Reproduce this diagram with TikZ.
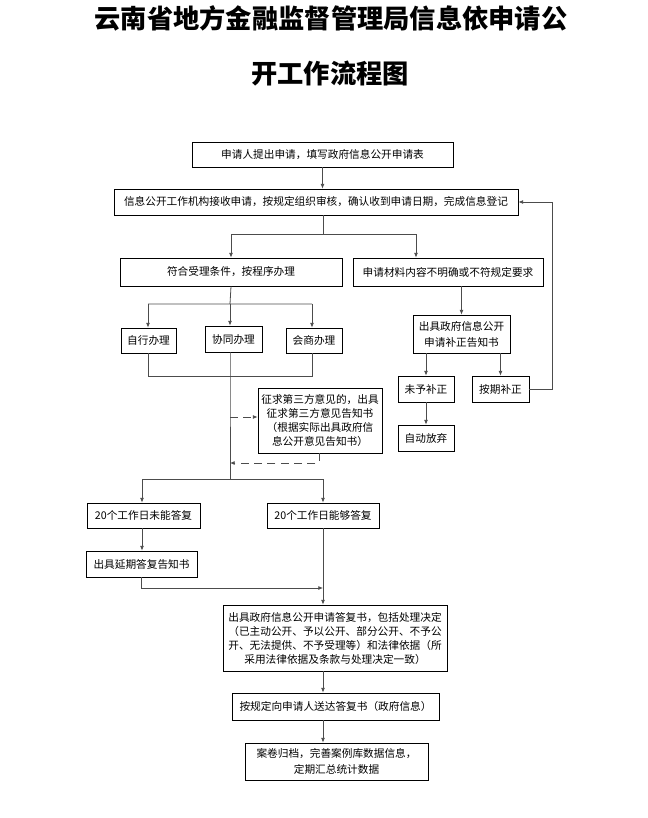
\documentclass[tikz,border=0pt]{standalone}
\usepackage{fontspec}
\setmainfont{Noto Sans CJK SC}
\usetikzlibrary{arrows.meta}

\begin{document}
\begin{tikzpicture}[x=0.75pt, y=-0.75pt,
  box/.style={draw, rectangle, line width=0.6pt, inner sep=0pt, align=center, font=\fontsize{8}{10.5}\selectfont},
  seg/.style={line width=0.6pt, draw=black!70},
  link/.style={seg, -{Latex[length=3.5pt,width=3pt]}},
  dlink/.style={link, dash pattern=on 6pt off 4pt},
  heading/.style={font=\fontsize{19.7}{24}\selectfont\bfseries}]
\useasboundingbox (0,0) rectangle (647,818);
\node[heading] (titleTop) at (331, 18) {云南省地方金融监督管理局信息依申请公};
\node[heading] (titleBottom) at (330, 74) {开工作流程图};
\node[box, minimum width=195.75pt, minimum height=18.75pt] (apply) at (322.5, 154.5) {申请人提出申请，填写政府信息公开申请表};
\node[box, minimum width=303pt, minimum height=19.5pt] (register) at (316, 202) {信息公开工作机构接收申请，按规定组织审核，确认收到申请日期，完成信息登记};
\node[box, minimum width=166.5pt, minimum height=21pt] (accept) at (231, 272) {符合受理条件，按程序办理};
\node[box, minimum width=142.5pt, minimum height=21pt] (unclear) at (448, 272) {申请材料内容不明确或不符规定要求};
\node[box, minimum width=41.25pt, minimum height=18.75pt] (self) at (148.5, 340.5) {自行办理};
\node[box, minimum width=42.75pt, minimum height=19.5pt] (joint) at (233.5, 339) {协同办理};
\node[box, minimum width=42pt, minimum height=18.75pt] (consult) at (314, 340.5) {会商办理};
\node[box, minimum width=72.75pt, minimum height=28.5pt, font=\fontsize{8}{12}\selectfont] (notice) at (461.5, 334) {出具政府信息公开\\申请补正告知书};
\node[box, minimum width=42pt, minimum height=19.5pt] (notFixed) at (426, 389) {未予补正};
\node[box, minimum width=42.75pt, minimum height=19.5pt] (fixed) at (500.5, 389) {按期补正};
\node[box, minimum width=42pt, minimum height=19.5pt] (giveUp) at (426, 438) {自动放弃};
\node[box, minimum width=93pt, minimum height=48.75pt] (thirdParty) at (320, 420.5) {征求第三方意见的，出具\\征求第三方意见告知书\\（根据实际出具政府信\\息公开意见告知书）};
\node[box, minimum width=84.75pt, minimum height=18.75pt] (overdue) at (143.5, 515.5) {20个工作日未能答复};
\node[box, minimum width=84pt, minimum height=18.75pt] (onTime) at (323, 515.5) {20个工作日能够答复};
\node[box, minimum width=83.25pt, minimum height=19.5pt] (extend) at (141.5, 564) {出具延期答复告知书};
\node[box, minimum width=168pt, minimum height=49.5pt] (reply) at (335, 638) {出具政府信息公开申请答复书，包括处理决定\\（已主动公开、予以公开、部分公开、不予公\\开、无法提供、不予受理等）和法律依据（所\\采用法律依据及条款与处理决定一致）};
\node[box, minimum width=155.25pt, minimum height=20.25pt] (deliver) at (335.5, 706.5) {按规定向申请人送达答复书（政府信息）};
\node[box, minimum width=137.25pt, minimum height=27.75pt, font=\fontsize{8}{12.5}\selectfont] (archive) at (336.5, 761.5) {案卷归档，完善案例库数据信息，\\定期汇总统计数据};
\node(1) at (323, 234) {}; \node(2) at (231, 234) {}; \node(3) at (416, 234) {}; % split below register
\node(4) at (230, 304) {}; \node(5) at (148, 304) {}; \node(6) at (312, 304) {}; % split below accept
\node(7) at (148, 376) {}; \node(8) at (312, 376) {}; \node(9) at (230, 376) {}; % merge of the three ways
\node(10) at (230, 479) {}; \node(11) at (230, 417) {}; \node(12) at (319, 463) {}; \node(13) at (230, 463) {};
\node(14) at (142, 479) {}; \node(15) at (323, 479) {}; \node(16) at (141, 588) {}; \node(17) at (323, 588) {};
\node(18) at (552, 389) {}; \node(19) at (552, 202) {}; % way back to register
\draw[link] (apply.south) -- (apply.south |- register.north);
\draw[seg] (1.center |- register.south) -- (1.center) (2.center) -- (3.center);
\draw[link] (2.center) -- (accept.north);
\draw[link] (3.center) -- (3.center |- unclear.north);
\draw[seg] (accept.south) -- (4.center) (5.center) -- (6.center);
\draw[link] (5.center) -- (5.center |- self.north);
\draw[link] (4.center) -- (4.center |- joint.north);
\draw[link] (6.center) -- (6.center |- consult.north);
\draw[seg] (7.center |- self.south) -- (7.center) -- (8.center) -- (8.center |- consult.south);
\draw[seg] (9.center |- joint.south) -- (9.center) -- (10.center);
\draw[dlink] (11.center) -- (11.center -| thirdParty.west);
\draw[dlink] (12.center |- thirdParty.south) -- (12.center) -- (13.center);
\draw[seg] (14.center) -- (15.center);
\draw[link] (14.center) -- (14.center |- overdue.north);
\draw[link] (15.center) -- (onTime.north);
\draw[link] (14.center |- overdue.south) -- (14.center |- extend.north);
\draw[seg] (16.center |- extend.south) -- (16.center);
\draw[link] (16.center) -- (17.center);
\draw[link] (onTime.south) -- (onTime.south |- reply.north);
\draw[link] (reply.south -| onTime.south) -- (deliver.north -| onTime.south);
\draw[link] (deliver.south -| onTime.south) -- (archive.north -| onTime.south);
\draw[link] (notice.north |- unclear.south) -- (notice.north);
\draw[link] (notFixed.north |- notice.south) -- (notFixed.north);
\draw[link] (fixed.north |- notice.south) -- (fixed.north);
\draw[link] (notFixed.south) -- (giveUp.north);
\draw[link] (fixed.east) -- (18.center) -- (19.center) -- (register.east);
\end{tikzpicture}
\end{document}
